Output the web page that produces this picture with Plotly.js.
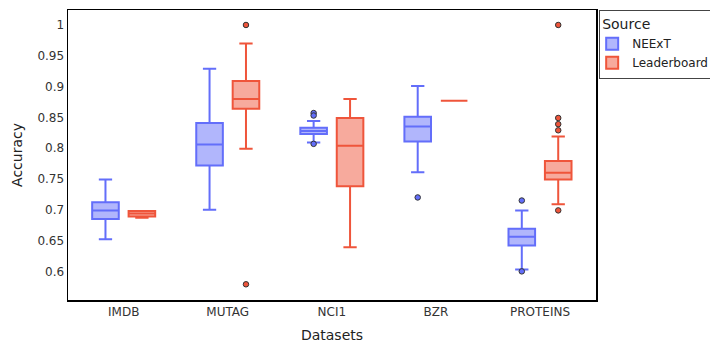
<!DOCTYPE html>
<html>
<head>
<meta charset="utf-8">
<script src="https://cdn.plot.ly/plotly-3.0.1.min.js"></script>
<style>html,body{margin:0;padding:0;background:#fff;}#chart{width:710px;height:343px;}</style>
</head>
<body>
<div id="chart"></div>
<script>
const categories = ['IMDB', 'MUTAG', 'NCI1', 'BZR', 'PROTEINS'];

const neextQ1 = [0.685, 0.772, 0.823, 0.811, 0.642];
const neextMedian = [0.699, 0.806, 0.828, 0.835, 0.656];
const neextQ3 = [0.712, 0.841, 0.833, 0.851, 0.669];
const neextLow = [0.652, 0.700, 0.809, 0.761, 0.603];
const neextHigh = [0.749, 0.929, 0.844, 0.901, 0.699];
const neextOutliers = [[], [], [0.857, 0.853, 0.807], [0.720], [0.715, 0.600]];

const leaderQ1 = [0.689, 0.864, 0.738, 0.877, 0.749];
const leaderMedian = [0.694, 0.880, 0.804, 0.877, 0.760];
const leaderQ3 = [0.698, 0.909, 0.849, 0.877, 0.779];
const leaderLow = [0.687, 0.799, 0.639, 0.877, 0.709];
const leaderHigh = [0.698, 0.970, 0.880, 0.877, 0.819];
const leaderOutliers = [[], [1.0, 0.579], [], [], [1.0, 0.849, 0.839, 0.829, 0.699]];

function boxTrace(name, color, q1, med, q3, lo, hi) {
  return {
    type: 'box', name: name, x: categories,
    q1: q1, median: med, q3: q3, lowerfence: lo, upperfence: hi,
    boxpoints: false,
    line: {color: color, width: 2}
  };
}

function outlierTrace(name, color, outs) {
  const xs = [], ys = [];
  outs.forEach((vals, i) => vals.forEach(v => { xs.push(categories[i]); ys.push(v); }));
  return {
    type: 'scatter', mode: 'markers', name: name, x: xs, y: ys,
    showlegend: false, hoverinfo: 'skip',
    marker: {color: color, size: 5.5, line: {color: '#333', width: 1}}
  };
}

const data = [
  boxTrace('NEExT', '#636efa', neextQ1, neextMedian, neextQ3, neextLow, neextHigh),
  boxTrace('Leaderboard', '#EF553B', leaderQ1, leaderMedian, leaderQ3, leaderLow, leaderHigh),
  outlierTrace('NEExT', '#636efa', neextOutliers),
  outlierTrace('Leaderboard', '#EF553B', leaderOutliers)
];

const layout = {
  width: 710, height: 343,
  margin: {l: 68, r: 114, t: 10, b: 43, autoexpand: false},
  paper_bgcolor: '#fff', plot_bgcolor: '#fff',
  font: {family: 'DejaVu Sans, Verdana, sans-serif', size: 12, color: '#333'},
  boxmode: 'group', boxgap: 0.3, boxgroupgap: 0.27,
  scattermode: 'group', scattergap: 0.3,
  xaxis: {
    type: 'category', categoryorder: 'array', categoryarray: categories,
    range: [-0.535, 4.538],
    showline: true, mirror: true, linecolor: '#000', linewidth: 1.5,
    showgrid: false, zeroline: false, ticks: '',
    title: {text: 'Datasets', font: {size: 14, color: '#222'}}
  },
  yaxis: {
    range: [0.5535, 1.0243], dtick: 0.05, tick0: 0,
    showline: true, mirror: true, linecolor: '#000', linewidth: 1.5,
    showgrid: false, zeroline: false, ticks: '',
    title: {text: 'Accuracy', standoff: 11, font: {size: 14, color: '#222'}}
  },
  legend: {
    x: 1.006, y: 1, xanchor: 'left', yanchor: 'top',
    bordercolor: '#444', borderwidth: 1, indentation: -8,
    title: {text: 'Source', font: {size: 14, color: '#222'}},
    font: {size: 12, color: '#222'}
  }
};

Plotly.newPlot('chart', data, layout, {displayModeBar: false, staticPlot: true});
</script>
</body>
</html>
